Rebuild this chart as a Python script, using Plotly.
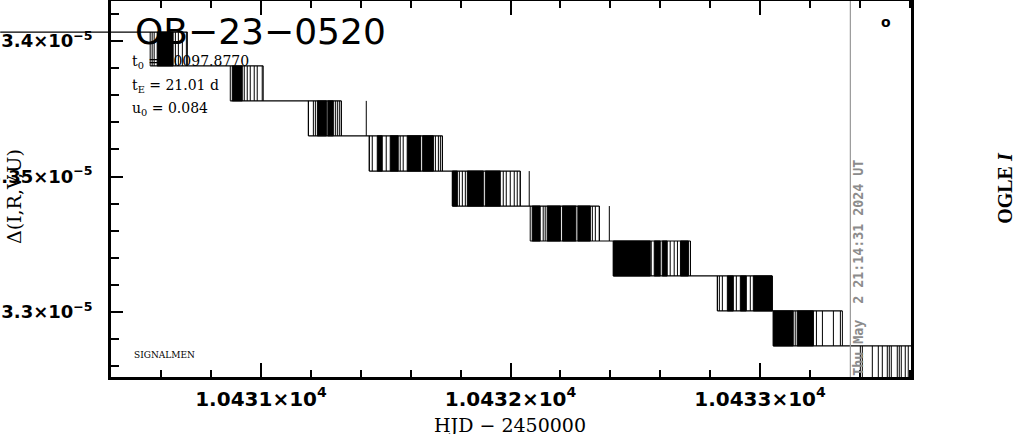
import plotly.graph_objects as go

# ---- data ----
levels = [3.4033e-5, 3.3908e-5, 3.3779e-5, 3.3650e-5, 3.3520e-5, 3.3391e-5,
          3.3262e-5, 3.3133e-5, 3.3004e-5, 3.2875e-5, 3.2745e-5]

block_start = [10430.556, 10430.877, 10431.190, 10431.434, 10431.767,
               10432.079, 10432.412, 10432.829, 10433.053, 10433.402]
block_end = [10430.705, 10431.009, 10431.322, 10431.727, 10432.039,
             10432.356, 10432.721, 10433.049, 10433.330, 10433.700]

dense = [
    [(10430.584, 10430.648)],
    [(10430.885, 10430.925)],
    [(10431.226, 10431.262), (10431.268, 10431.290)],
    [(10431.466, 10431.486), (10431.518, 10431.550), (10431.586, 10431.640), (10431.648, 10431.691)],
    [(10431.767, 10431.787), (10431.827, 10431.891), (10431.899, 10431.959)],
    [(10432.087, 10432.119), (10432.147, 10432.200), (10432.208, 10432.262), (10432.270, 10432.320)],
    [(10432.412, 10432.560), (10432.576, 10432.600), (10432.608, 10432.628), (10432.681, 10432.713)],
    [(10432.869, 10432.893), (10432.921, 10432.945), (10432.973, 10433.049)],
    [(10433.053, 10433.133), (10433.149, 10433.214)],
    [],
]

spikes = [
    [10430.564, 10430.572, 10430.657, 10430.669, 10430.685, 10430.701],
    [10430.933, 10430.945, 10430.957, 10430.973, 10430.985, 10431.005],
    [10431.190, 10431.210, 10431.218, 10431.298, 10431.306, 10431.314, 10431.322, 10431.422],
    [10431.434, 10431.446, 10431.502, 10431.558, 10431.570, 10431.699, 10431.711, 10431.719, 10431.727],
    [10431.795, 10431.807, 10431.819, 10431.971, 10431.983, 10431.999, 10432.015, 10432.027, 10432.039, 10432.075],
    [10432.131, 10432.139, 10432.328, 10432.340, 10432.356, 10432.396],
    [10432.564, 10432.640, 10432.656, 10432.669, 10432.721],
    [10432.829, 10432.837, 10432.849, 10432.905, 10432.961],
    [10433.141, 10433.226, 10433.250, 10433.294, 10433.322],
    [10433.410, 10433.450, 10433.474, 10433.490, 10433.510, 10433.518, 10433.526,
     10433.550, 10433.558, 10433.566, 10433.582, 10433.594],
]

first_hjd = 10429.955
last_hjd = 10433.70
now_hjd = 10433.362

x_range = [10430.399, 10433.605]
y_range = [3.27602e-5, 3.41476e-5]
x_tickvals = [10431, 10432, 10433]
x_ticktext = ["1.0431×10<sup>4</sup>", "1.0432×10<sup>4</sup>", "1.0433×10<sup>4</sup>"]
y_tickvals = [3.3e-5, 3.35e-5, 3.4e-5]
y_ticktext = ["3.3×10<sup>−5</sup>", "3.35×10<sup>−5</sup>", "3.4×10<sup>−5</sup>"]

# ---- build traces ----
hx, hy = [], []
for k, lev in enumerate(levels):
    x0 = first_hjd if k == 0 else block_start[k - 1]
    x1 = block_end[k] if k < len(block_end) else last_hjd
    hx += [x0, x1, None]
    hy += [lev, lev, None]

vx, vy = [], []
for k in range(len(block_start)):
    for s in [block_start[k]] + spikes[k] + [block_end[k]]:
        vx += [s, s, None]
        vy += [levels[k], levels[k + 1], None]

fx, fy = [], []
for k, blocks in enumerate(dense):
    for a, b in blocks:
        fx += [a, b, b, a, a, None]
        fy += [levels[k], levels[k], levels[k + 1], levels[k + 1], levels[k], None]

fig = go.Figure()
fig.add_trace(go.Scatter(x=fx, y=fy, mode="lines", fill="toself", fillcolor="black",
                         line=dict(color="black", width=1), hoverinfo="skip", showlegend=False))
fig.add_trace(go.Scatter(x=hx, y=hy, mode="lines", line=dict(color="black", width=1.2),
                         hoverinfo="skip", showlegend=False))
fig.add_trace(go.Scatter(x=vx, y=vy, mode="lines", line=dict(color="black", width=1),
                         hoverinfo="skip", showlegend=False))

# the first flat run of the light curve spills left of the frame in the original
span = x_range[1] - x_range[0]
fig.add_shape(type="line", xref="paper", yref="y",
              x0=(first_hjd - x_range[0]) / span, x1=0, y0=levels[0], y1=levels[0],
              line=dict(color="black", width=1.2))
fig.add_shape(type="line", x0=now_hjd, x1=now_hjd, y0=0, y1=1, xref="x", yref="paper",
              line=dict(color="#999999", width=1.2))

xtickfont = dict(family="DejaVu Sans", size=20, color="black", weight="bold")
ytickfont = dict(family="DejaVu Sans", size=18, color="black", weight="bold")
fig.update_xaxes(range=x_range, tickmode="array", tickvals=x_tickvals, ticktext=x_ticktext,
                 ticks="inside", ticklen=14, tickwidth=1.5, tickcolor="black", automargin=False,
                 showgrid=False, zeroline=False, showline=True, linewidth=2.5, linecolor="black",
                 mirror="ticks", tickfont=xtickfont, ticklabelstandoff=2,
                 minor=dict(tickmode="linear", tick0=10431, dtick=0.2, ticks="inside",
                            ticklen=7, tickwidth=1.5, tickcolor="black", showgrid=False))
fig.update_yaxes(range=y_range, tickmode="array", tickvals=y_tickvals, ticktext=y_ticktext,
                 ticks="inside", ticklen=12, tickwidth=1.5, tickcolor="black", automargin=False,
                 showgrid=False, zeroline=False, showline=True, linewidth=2.5, linecolor="black",
                 mirror=True, tickfont=ytickfont, ticklabelstandoff=12,
                 minor=dict(tickmode="linear", tick0=3.3e-5, dtick=1e-7, ticks="inside",
                            ticklen=8, tickwidth=1.5, tickcolor="black", showgrid=False))

serif = "DejaVu Serif"
ann = [
    dict(text="OB−23−0520", x=0.027, y=0.918, xanchor="left", yanchor="middle",
         font=dict(family="DejaVu Sans", size=36, color="black")),
    dict(text="t<sub>0</sub> = 10097.8770", x=0.024, y=0.838, xanchor="left", yanchor="middle",
         font=dict(family=serif, size=14, color="black")),
    dict(text="t<sub>E</sub> = 21.01 d", x=0.024, y=0.774, xanchor="left", yanchor="middle",
         font=dict(family=serif, size=14, color="black")),
    dict(text="u<sub>0</sub> = 0.084", x=0.024, y=0.713, xanchor="left", yanchor="middle",
         font=dict(family=serif, size=14, color="black")),
    dict(text="SIGNALMEN", x=0.026, y=0.058, xanchor="left", yanchor="middle",
         font=dict(family=serif, size=9, color="black")),
    dict(text="Thu May\u00a0\u00a02 21:14:31 2024 UT", x=0.934, y=0.291, xanchor="center",
         yanchor="middle", textangle=-90,
         font=dict(family="DejaVu Sans Mono", size=13.3, color="#8c8c8c", weight="bold")),
    dict(text="OGLE <i>I</i>", x=1.1175, y=0.503, xanchor="center", yanchor="middle",
         textangle=-90, font=dict(family="Liberation Serif", size=20, color="black", weight="bold")),
    dict(text="o", x=0.969, y=0.944, xanchor="center", yanchor="middle",
         font=dict(family="DejaVu Sans", size=14, color="black", weight="bold")),
    dict(text="Δ(I,R,V,U)", x=-0.121, y=0.479, xanchor="center", yanchor="middle",
         textangle=-90, font=dict(family=serif, size=19, color="black")),
    dict(text="HJD − 2450000", x=0.499, y=-0.128, xanchor="center", yanchor="middle",
         font=dict(family=serif, size=19, color="black")),
]
for a in ann:
    a.update(xref="paper", yref="paper", showarrow=False)
fig.update_layout(template="none", annotations=ann, width=1014, height=434,
                  margin=dict(l=111, r=103, t=1, b=57, autoexpand=False),
                  plot_bgcolor="white", paper_bgcolor="white")

fig.write_html("out.html", config={"displayModeBar": False},
               post_script="document.body.style.margin='0';")
